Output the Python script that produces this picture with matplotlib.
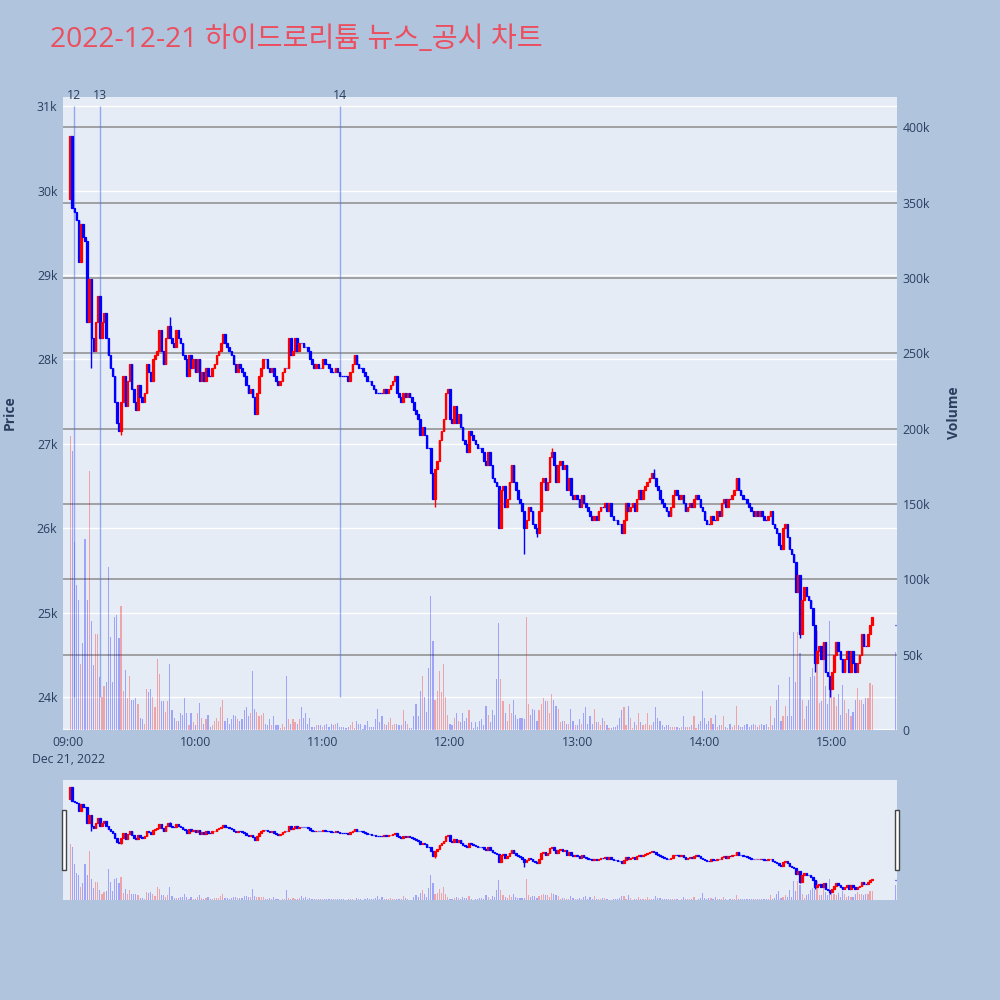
import matplotlib
matplotlib.use("Agg")
import matplotlib.pyplot as plt
from matplotlib.patches import Rectangle
import numpy as np

plt.rcParams['font.family'] = ['Open Sans', 'Noto Sans CJK KR', 'DejaVu Sans']

# ---------------- data ----------------
TITLE = "2022-12-21 하이드로리튬 뉴스_공시 차트"
DATE_LABEL = "Dec 21, 2022"
SESSION_START = "09:01"
FIRST_OPEN = 29900

CLOSE_0901_1005 = [
    30650, 29800, 29750, 29650, 29150, 29600, 29450, 29400, 28450, 28950,
    28250, 28100, 28450, 28750, 28250, 28450, 28550, 28250, 28050, 27900,
    27800, 27500, 27250, 27150, 27500, 27800, 27450, 27750, 27950, 27650,
    27500, 27400, 27700, 27550, 27500, 27600, 27950, 27850, 27750, 28000,
    28050, 28100, 28350, 28100, 27950, 28250, 28400, 28250, 28200, 28150,
    28350, 28250, 28200, 28050, 28000, 27800, 28050, 27900, 28000, 27850,
    28000, 27750, 27850, 27750, 27900]
CLOSE_1006_1112 = [
    27800, 27800, 27900, 27950, 28050, 28100, 28200, 28300, 28200, 28150,
    28100, 28050, 27950, 27850, 27950, 27900, 27850, 27800, 27700, 27600,
    27650, 27550, 27350, 27600, 27800, 27900, 28000, 28000, 27900, 27850,
    27900, 27800, 27750, 27700, 27750, 27850, 27900, 27900, 28250, 28050,
    28100, 28250, 28100, 28200, 28200, 28150, 28150, 28100, 28000, 27950,
    27900, 27950, 27900, 27900, 28000, 27950, 27950, 27900, 27850, 27850,
    27900, 27850, 27800, 27800, 27800, 27800, 27750]
CLOSE_1113_1218 = [
    27850, 27950, 28050, 27950, 27900, 27900, 27850, 27800, 27750, 27750,
    27700, 27650, 27600, 27600, 27600, 27600, 27650, 27600, 27650, 27700,
    27750, 27800, 27600, 27550, 27500, 27600, 27550, 27600, 27550, 27500,
    27400, 27350, 27300, 27100, 27200, 27100, 26950, 26950, 26650, 26350,
    26700, 26800, 27050, 27150, 27300, 27600, 27650, 27300, 27250, 27450,
    27250, 27350, 27200, 27050, 27000, 26900, 27150, 27100, 27050, 27000,
    26950, 26950, 26900, 26800, 26750, 26900]
CLOSE_1219_1324 = [
    26750, 26600, 26550, 26500, 26000, 26450, 26500, 26250, 26350, 26550,
    26750, 26550, 26450, 26350, 26300, 26200, 26000, 26100, 26250, 26200,
    26050, 26000, 25950, 26200, 26550, 26600, 26450, 26550, 26850, 26900,
    26750, 26550, 26750, 26800, 26700, 26750, 26450, 26600, 26400, 26350,
    26400, 26350, 26250, 26400, 26300, 26250, 26200, 26150, 26100, 26150,
    26100, 26200, 26250, 26250, 26300, 26200, 26300, 26150, 26100, 26100,
    26050, 26050, 25950, 26100, 26300, 26200]
CLOSE_1325_1430 = [
    26250, 26300, 26200, 26350, 26450, 26350, 26450, 26500, 26550, 26600,
    26650, 26600, 26500, 26450, 26350, 26300, 26250, 26200, 26150, 26250,
    26400, 26450, 26400, 26350, 26400, 26300, 26200, 26250, 26300, 26250,
    26350, 26400, 26350, 26250, 26200, 26100, 26050, 26050, 26150, 26100,
    26100, 26200, 26150, 26300, 26350, 26250, 26350, 26350, 26400, 26450,
    26600, 26450, 26400, 26350, 26350, 26300, 26250, 26200, 26150, 26200,
    26150, 26200, 26150, 26100, 26100, 26150]
CLOSE_1431_1519 = [
    26200, 26050, 26000, 25950, 25800, 25750, 26000, 26050, 25900, 25750,
    25700, 25600, 25250, 25450, 24750, 25150, 25300, 25200, 25150, 25050,
    24850, 24400, 24550, 24600, 24450, 24650, 24300, 24250, 24100, 24300,
    24500, 24650, 24550, 24450, 24300, 24450, 24550, 24300, 24550, 24400,
    24300, 24400, 24500, 24750, 24600, 24600, 24750, 24850, 24950]

# volume in thousands of shares
VOLUME_K_0901_1105 = [
    195, 185, 125, 96, 86, 44, 58, 127, 86, 172,
    72, 43, 64, 64, 35, 22, 29, 32, 108, 62,
    32, 75, 76, 61, 82, 26, 40, 21, 36, 20,
    20, 21, 17, 8, 7, 4, 27, 25, 27, 22,
    15, 47, 37, 19, 19, 12, 19, 44, 13, 8,
    6, 6, 11, 10, 21, 11, 3, 11, 5, 3,
    11, 18, 8, 4, 7, 10, 2, 3, 6, 8,
    6, 15, 20, 6, 8, 4, 7, 10, 9, 7,
    6, 7, 13, 15, 9, 11, 39, 14, 12, 9,
    10, 11, 4, 3, 7, 3, 9, 3, 3, 1,
    4, 2, 36, 7, 4, 7, 5, 4, 7, 15,
    8, 11, 4, 8, 2, 2, 3, 3, 3, 2,
    3, 4, 2, 4, 3]
VOLUME_K_1106_1320 = [
    4, 4.9, 2, 2, 2, 1.5, 2, 3, 5, 1.5,
    6, 4, 4, 0.7, 3, 6, 2, 2, 2, 7,
    14, 5, 9, 4, 3, 5, 8, 3, 4, 4,
    3, 3, 13, 6, 4, 1, 1, 9, 17, 9,
    26, 36, 22, 12, 41, 89, 59, 20, 26, 39,
    25, 44, 22, 10, 4, 3, 8, 11, 6, 5,
    11, 6, 8, 13, 5, 1, 5, 2, 6,
    7, 3, 16, 10, 5, 13, 10, 34, 71, 34,
    19, 11, 6, 17, 11, 20, 10, 7, 8,
    8, 7, 75, 17, 10, 14, 13, 6, 13, 17,
    21, 19, 19, 11, 24, 20, 16, 14, 5, 6,
    6, 4, 4, 14, 6, 3, 3, 7, 4, 11,
    15, 4, 9, 4, 14, 5, 5, 3, 8, 6,
    3, 1, 1, 2, 2, 3, 8]
VOLUME_K_1321_1519 = [
    13, 15, 3, 16, 8, 1.5, 5, 3, 11,
    5, 3, 4, 11, 3, 3, 5, 15, 8, 6,
    3, 2, 3, 3, 2, 2, 2, 2, 1,
    2, 9, 2, 2, 2, 3, 9, 1, 4, 6,
    26, 8, 4, 6, 8, 4, 10, 2, 3, 3,
    9, 2, 1, 4, 2, 3, 16, 3, 2,
    2, 3, 4, 2, 3, 4, 3, 2, 3,
    4, 3, 4, 2, 16, 3, 8, 20, 30,
    6, 9, 16, 9, 35, 9, 65, 32, 65, 51,
    20, 7, 16, 20, 35, 41, 36, 66, 18, 19,
    57, 29, 17, 72, 32, 22, 16, 24, 10,
    30, 20, 11, 14, 9, 12, 20, 28, 20, 20,
    17, 21, 21, 31, 30]

AUCTION_TIME = "15:30"
AUCTION_PRICE = 24850
AUCTION_VOLUME_K = 52

WICK_TIMES = ["09:11", "09:25", "09:48", "11:53", "12:35", "12:41", "12:48",
              "13:36", "14:45", "14:52", "14:59"]
WICK_PRICES = [27900, 27100, 28500, 26250, 25700, 25900, 26950,
               26700, 24700, 24300, 24000]

NEWS_LABELS = ["12", "13", "14"]
NEWS_TIMES = ["09:03", "09:15", "11:08"]
NEWS_LINE_FROM = 24000
NEWS_LINE_TO = 31000

PRICE_TICKS = [24000, 25000, 26000, 27000, 28000, 29000, 30000, 31000]
VOLUME_TICKS = [0, 50000, 100000, 150000, 200000, 250000, 300000, 350000, 400000]
TIME_TICKS = ["09:00", "10:00", "11:00", "12:00", "13:00", "14:00", "15:00"]

# ---------------- build series ----------------
def to_min(s):
    h, m = map(int, s.split(":"))
    return h * 60 + m - 9 * 60

close = np.array(CLOSE_0901_1005 + CLOSE_1006_1112 + CLOSE_1113_1218 +
                 CLOSE_1219_1324 + CLOSE_1325_1430 + CLOSE_1431_1519, float)
vol = np.array(VOLUME_K_0901_1105 + VOLUME_K_1106_1320 + VOLUME_K_1321_1519, float) * 1000
n = min(len(close), len(vol))
close = close[:n]
vol = vol[:n]
t = to_min(SESSION_START) + np.arange(n)
opn = np.concatenate([[FIRST_OPEN], close[:-1]])

# closing auction
t = np.append(t, to_min(AUCTION_TIME))
opn = np.append(opn, AUCTION_PRICE)
close = np.append(close, AUCTION_PRICE)
vol = np.append(vol, AUCTION_VOLUME_K * 1000)

high = np.maximum(opn, close)
low = np.minimum(opn, close)
for wt, wp in zip(WICK_TIMES, WICK_PRICES):
    idx = np.where(t == to_min(wt))[0]
    if len(idx):
        i = idx[0]
        high[i] = max(high[i], wp)
        low[i] = min(low[i], wp)

up = close > opn
ccol = np.where(up, "#FF0000", "#0000FF")

# ---------------- figure ----------------
BG = "#B0C4DE"
PLOT_BG = "#E5ECF6"
TXT = "#2a3f5f"
FS = 8.8

fig = plt.figure(figsize=(10, 10), dpi=100, facecolor=BG)

XLIM = (-2.36, 390.7)
PRICE_LIM = (23610, 31110)
VOL_LIM = (0, 420000)

ax_v = fig.add_axes([0.063, 0.27, 0.834, 0.633], facecolor=PLOT_BG)
ax_p = ax_v.twinx()
ax_p.patch.set_visible(False)

# grids
for v in VOLUME_TICKS[1:]:
    ax_v.axhline(v, color="#8c8c8c", lw=1.1, zorder=1)
ax_v.axhline(0, color="white", lw=2, zorder=1)
for p in PRICE_TICKS:
    ax_v.plot([0, 1], [p, p], transform=ax_p.get_yaxis_transform(),
              color="white", lw=1, zorder=0.8)

# volume bars
ax_v.bar(t, vol, width=0.55, color=ccol, alpha=0.3, linewidth=0, zorder=2)

# news lines
for lab, nt in zip(NEWS_LABELS, NEWS_TIMES):
    x = to_min(nt)
    ax_p.vlines(x, NEWS_LINE_FROM, NEWS_LINE_TO, color="#4f6ff0", lw=1.0, alpha=0.55, zorder=2)
    ax_p.annotate(lab, xy=(x, NEWS_LINE_TO), xytext=(0, 3), textcoords="offset points",
                  ha="center", va="bottom", fontsize=FS, color=TXT, annotation_clip=False)

def draw_candles(ax, width, edge_lw, wick_lw):
    ax.vlines(t, low, high, colors=ccol, lw=wick_lw, zorder=3)
    ax.bar(t, np.abs(close - opn), bottom=np.minimum(opn, close), width=width,
           color=ccol, edgecolor=ccol, linewidth=edge_lw, zorder=4)

draw_candles(ax_p, 0.75, 0.9, 1.0)

ax_v.set_xlim(*XLIM)
ax_v.set_ylim(*VOL_LIM)
ax_p.set_ylim(*PRICE_LIM)

# axes styling
for a in (ax_v, ax_p):
    for s in a.spines.values():
        s.set_visible(False)
ax_v.yaxis.tick_right()
ax_v.set_yticks(VOLUME_TICKS)
ax_v.set_yticklabels(["0" if v == 0 else f"{v // 1000}k" for v in VOLUME_TICKS])
ax_p.yaxis.tick_left()
ax_p.set_yticks(PRICE_TICKS)
ax_p.set_yticklabels([f"{p // 1000}k" for p in PRICE_TICKS])
xt = [to_min(s) for s in TIME_TICKS]
ax_v.set_xticks(xt)
ax_v.set_xticklabels([TIME_TICKS[0] + "\n" + DATE_LABEL] + TIME_TICKS[1:])
ax_v.tick_params(axis="x", length=0, pad=4, labelsize=FS, labelcolor=TXT)
ax_v.tick_params(axis="y", length=0, pad=4, labelsize=FS, labelcolor=TXT)
ax_p.tick_params(axis="y", length=0, pad=4, labelsize=FS, labelcolor=TXT)
for lbl in ax_v.get_xticklabels():
    lbl.set_linespacing(1.45)

fig.text(0.050, 0.960, TITLE, fontsize=20.3, color="#EB4F5F", ha="left", va="center")
fig.text(0.010, 0.587, "Price", rotation=90, ha="center", va="center",
         fontsize=10, fontweight="bold", color=TXT)
fig.text(0.954, 0.587, "Volume", rotation=90, ha="center", va="center",
         fontsize=10, fontweight="bold", color=TXT)

# ---------------- range slider ----------------
ax_sv = fig.add_axes([0.063, 0.10, 0.834, 0.12], facecolor=PLOT_BG)
ax_sp = ax_sv.twinx()
ax_sp.patch.set_visible(False)
ax_sv.bar(t, vol, width=0.55, color=ccol, alpha=0.3, linewidth=0, zorder=2)
draw_candles(ax_sp, 0.75, 0.9, 1.0)
ax_sv.set_xlim(*XLIM)
ax_sv.set_ylim(*VOL_LIM)
ax_sp.set_ylim(*PRICE_LIM)
for a in (ax_sv, ax_sp):
    a.set_xticks([])
    a.set_yticks([])
    for s in a.spines.values():
        s.set_visible(False)

for hx in (0.062, 0.895):
    fig.patches.append(Rectangle((hx, 0.130), 0.004, 0.060, transform=fig.transFigure,
                                 facecolor="white", edgecolor="#444444", lw=1, zorder=10))

fig.savefig("out.png", dpi=100, facecolor=BG)
